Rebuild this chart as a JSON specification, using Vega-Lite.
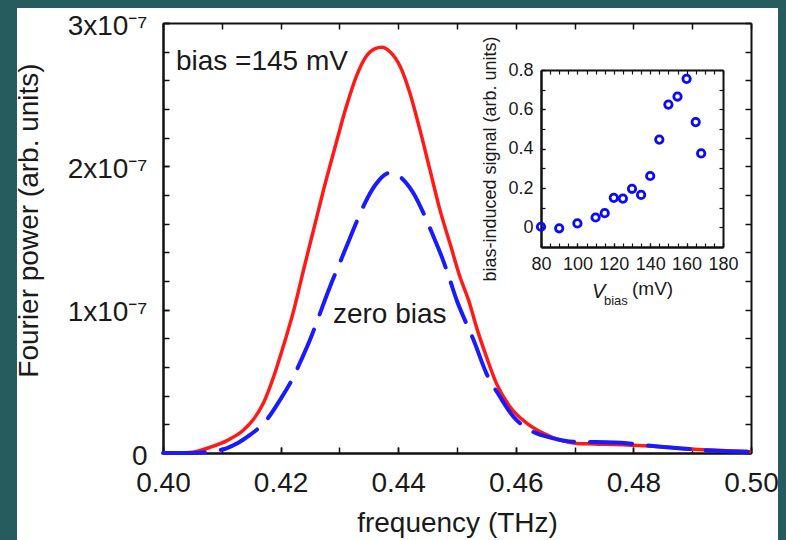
{
  "$schema": "https://vega.github.io/schema/vega-lite/v6.json",
  "width": 761,
  "height": 532,
  "autosize": {"type": "none"},
  "padding": {"left": 17, "top": 8, "right": 8, "bottom": 0},
  "background": "#265c5d",
  "config": {
    "view": {"fill": "white", "stroke": null},
    "font": "Liberation Sans",
    "axis": {"grid": false, "labelFont": "Liberation Sans", "titleFont": "Liberation Sans", "titleFontWeight": "normal", "labelColor": "#1a1a1a", "titleColor": "#1a1a1a", "domainColor": "#111111", "tickColor": "#111111"}
  },
  "datasets": {
    "biased": [
      {"f": 0.400, "p": 0}, {"f": 0.403, "p": 0}, {"f": 0.405, "p": 0.005e-7}, {"f": 0.408, "p": 0.04e-7},
      {"f": 0.4108, "p": 0.085e-7}, {"f": 0.4137, "p": 0.16e-7}, {"f": 0.4154, "p": 0.235e-7}, {"f": 0.4171, "p": 0.35e-7},
      {"f": 0.4188, "p": 0.53e-7}, {"f": 0.4205, "p": 0.75e-7}, {"f": 0.4222, "p": 0.99e-7}, {"f": 0.4239, "p": 1.277e-7},
      {"f": 0.4256, "p": 1.556e-7}, {"f": 0.4273, "p": 1.835e-7}, {"f": 0.4293, "p": 2.14e-7}, {"f": 0.4312, "p": 2.42e-7},
      {"f": 0.4329, "p": 2.63e-7}, {"f": 0.4346, "p": 2.77e-7}, {"f": 0.4360, "p": 2.82e-7}, {"f": 0.4372, "p": 2.83e-7},
      {"f": 0.4386, "p": 2.80e-7}, {"f": 0.4403, "p": 2.70e-7}, {"f": 0.4420, "p": 2.51e-7}, {"f": 0.4437, "p": 2.254e-7},
      {"f": 0.4454, "p": 1.975e-7}, {"f": 0.4471, "p": 1.696e-7}, {"f": 0.4488, "p": 1.463e-7}, {"f": 0.4505, "p": 1.23e-7},
      {"f": 0.4521, "p": 1.05e-7}, {"f": 0.4533, "p": 0.88e-7}, {"f": 0.4550, "p": 0.672e-7}, {"f": 0.4567, "p": 0.486e-7},
      {"f": 0.4590, "p": 0.323e-7}, {"f": 0.4619, "p": 0.207e-7}, {"f": 0.4647, "p": 0.137e-7}, {"f": 0.4675, "p": 0.09e-7},
      {"f": 0.4704, "p": 0.067e-7}, {"f": 0.4732, "p": 0.063e-7}, {"f": 0.4789, "p": 0.056e-7}, {"f": 0.4845, "p": 0.044e-7},
      {"f": 0.4902, "p": 0.026e-7}, {"f": 0.4959, "p": 0.016e-7}, {"f": 0.5000, "p": 0.009e-7}
    ],
    "zero": [
      {"f": 0.400, "p": 0}, {"f": 0.405, "p": 0}, {"f": 0.408, "p": 0.009e-7}, {"f": 0.4108, "p": 0.033e-7},
      {"f": 0.4148, "p": 0.126e-7}, {"f": 0.4176, "p": 0.23e-7}, {"f": 0.4199, "p": 0.37e-7}, {"f": 0.4222, "p": 0.532e-7},
      {"f": 0.4233, "p": 0.63e-7}, {"f": 0.4250, "p": 0.79e-7}, {"f": 0.4264, "p": 0.94e-7}, {"f": 0.4272, "p": 1.03e-7},
      {"f": 0.4284, "p": 1.16e-7}, {"f": 0.4301, "p": 1.33e-7}, {"f": 0.4312, "p": 1.44e-7}, {"f": 0.4329, "p": 1.61e-7},
      {"f": 0.4343, "p": 1.74e-7}, {"f": 0.4361, "p": 1.87e-7}, {"f": 0.4386, "p": 1.955e-7}, {"f": 0.4403, "p": 1.928e-7},
      {"f": 0.4414, "p": 1.882e-7}, {"f": 0.4426, "p": 1.812e-7}, {"f": 0.4443, "p": 1.673e-7}, {"f": 0.4460, "p": 1.51e-7},
      {"f": 0.4474, "p": 1.37e-7}, {"f": 0.4488, "p": 1.207e-7}, {"f": 0.4500, "p": 1.06e-7}, {"f": 0.4511, "p": 0.95e-7},
      {"f": 0.4528, "p": 0.79e-7}, {"f": 0.4550, "p": 0.556e-7}, {"f": 0.4573, "p": 0.393e-7}, {"f": 0.4596, "p": 0.253e-7},
      {"f": 0.4624, "p": 0.16e-7}, {"f": 0.4664, "p": 0.102e-7}, {"f": 0.4698, "p": 0.079e-7}, {"f": 0.4732, "p": 0.077e-7},
      {"f": 0.4789, "p": 0.068e-7}, {"f": 0.4834, "p": 0.049e-7}, {"f": 0.4900, "p": 0.026e-7}, {"f": 0.4950, "p": 0.014e-7},
      {"f": 0.5000, "p": 0.008e-7}
    ],
    "inset": [
      {"v": 80, "s": 0.003}, {"v": 90, "s": -0.005}, {"v": 100, "s": 0.02}, {"v": 110, "s": 0.05},
      {"v": 115, "s": 0.072}, {"v": 120, "s": 0.15}, {"v": 125, "s": 0.146}, {"v": 130, "s": 0.196},
      {"v": 135, "s": 0.165}, {"v": 140, "s": 0.261}, {"v": 145, "s": 0.446}, {"v": 150, "s": 0.624},
      {"v": 155, "s": 0.665}, {"v": 160, "s": 0.755}, {"v": 165, "s": 0.535}, {"v": 168, "s": 0.376}
    ]
  },
  "layer": [
    {
      "layer": [
        {
          "data": {"name": "biased"},
          "mark": {"type": "line", "color": "#ff1a1a", "strokeWidth": 3.5, "interpolate": "monotone"},
          "encoding": {
            "x": {"field": "f", "type": "quantitative",
              "scale": {"domain": [0.40, 0.50], "range": [146, 734], "nice": false, "zero": false},
              "axis": {"orient": "bottom", "offset": -87, "values": [0.40, 0.42, 0.44, 0.46, 0.48, 0.50],
                "format": ".2f", "tickSize": -6, "tickWidth": 1.5, "domainWidth": 2, "labelFontSize": 28, "labelPadding": 22,
                "labelFlush": false, "labelOverlap": false, "title": "frequency (THz)", "titleFontSize": 28, "titlePadding": 12}},
            "y": {"field": "p", "type": "quantitative",
              "scale": {"domain": [0, 3e-7], "range": [445, 15], "nice": false, "zero": false},
              "axis": {"orient": "left", "offset": -146, "values": [0, 1e-7, 2e-7, 3e-7],
                "labelExpr": "round(datum.value*1e7) == 0 ? '0' : format(round(datum.value*1e7), 'd') + 'x10⁻⁷'",
                "tickSize": -6, "tickWidth": 1.5, "domainWidth": 2, "labelFontSize": 28, "labelPadding": 22, "labelOffset": 3,
                "labelOverlap": false, "title": "Fourier power (arb. units)", "titleFontSize": 28, "titlePadding": 24, "titleY": 212}}
          }
        },
        {
          "data": {"values": [{}]},
          "mark": {"type": "text", "text": "bias =145 mV", "align": "left", "baseline": "alphabetic", "fontSize": 28, "color": "#1a1a1a"},
          "encoding": {"x": {"datum": 0.4022}, "y": {"datum": 2.673e-7}}
        },
        {
          "data": {"values": [{}]},
          "mark": {"type": "text", "text": "zero bias", "align": "left", "baseline": "alphabetic", "fontSize": 28, "color": "#1a1a1a"},
          "encoding": {"x": {"datum": 0.4289}, "y": {"datum": 0.907e-7}}
        }
      ]
    },
    {
      "data": {"name": "zero"},
      "mark": {"type": "line", "color": "#1a1aff", "strokeWidth": 4, "strokeDash": [42, 16], "strokeCap": "round", "interpolate": "monotone"},
      "encoding": {
        "x": {"field": "f", "type": "quantitative",
          "scale": {"domain": [0.40, 0.50], "range": [146, 734], "nice": false, "zero": false},
          "axis": {"orient": "top", "offset": -15, "values": [0.40, 0.41, 0.42, 0.43, 0.44, 0.45, 0.46, 0.47, 0.48, 0.49, 0.50],
            "labels": false, "tickSize": -6, "tickWidth": 1.5, "domainWidth": 2, "title": null}},
        "y": {"field": "p", "type": "quantitative",
          "scale": {"domain": [0, 3e-7], "range": [445, 15], "nice": false, "zero": false},
          "axis": {"orient": "right", "offset": -27,
            "values": [0, 2e-8, 4e-8, 6e-8, 8e-8, 1e-7, 1.2e-7, 1.4e-7, 1.6e-7, 1.8e-7, 2e-7, 2.2e-7, 2.4e-7, 2.6e-7, 2.8e-7, 3e-7],
            "labels": false, "tickSize": -6, "tickWidth": 1.5, "domainWidth": 2, "title": null}}
      }
    },
    {
      "data": {"name": "biased"},
      "mark": {"type": "point", "opacity": 0},
      "encoding": {
        "x": {"field": "f", "type": "quantitative",
          "scale": {"domain": [0.40, 0.50], "range": [146, 734], "nice": false, "zero": false},
          "axis": {"orient": "bottom", "offset": -87, "values": [0.40, 0.41, 0.42, 0.43, 0.44, 0.45, 0.46, 0.47, 0.48, 0.49, 0.50],
            "labels": false, "tickSize": -6, "tickWidth": 1.5, "domainWidth": 2, "title": null}},
        "y": {"field": "p", "type": "quantitative",
          "scale": {"domain": [0, 3e-7], "range": [445, 15], "nice": false, "zero": false},
          "axis": {"orient": "left", "offset": -146,
            "values": [0, 2e-8, 4e-8, 6e-8, 8e-8, 1e-7, 1.2e-7, 1.4e-7, 1.6e-7, 1.8e-7, 2e-7, 2.2e-7, 2.4e-7, 2.6e-7, 2.8e-7, 3e-7],
            "labels": false, "tickSize": -6, "tickWidth": 1.5, "domainWidth": 2, "title": null}}
      }
    },
    {
      "layer": [
        {
          "data": {"name": "inset"},
          "mark": {"type": "point", "shape": "circle", "filled": false, "opacity": 1, "size": 55, "strokeWidth": 2.8, "color": "#0a0aff"},
          "encoding": {
            "x": {"field": "v", "type": "quantitative",
              "scale": {"domain": [80, 180], "range": [524, 706], "nice": false, "zero": false},
              "axis": {"orient": "bottom", "offset": -293, "values": [80, 100, 120, 140, 160, 180], "format": "d",
                "tickSize": -4, "tickWidth": 1.2, "domainWidth": 2, "labelFontSize": 18, "labelPadding": 12,
                "labelFlush": false, "labelOverlap": false, "title": null}},
            "y": {"field": "s", "type": "quantitative",
              "scale": {"domain": [-0.1, 0.8], "range": [239, 62], "nice": false, "zero": false},
              "axis": {"orient": "left", "offset": -524, "values": [0, 0.2, 0.4, 0.6, 0.8],
                "labelExpr": "datum.value == 0 ? '0' : format(datum.value, '.1f')",
                "tickSize": -4, "tickWidth": 1.2, "domainWidth": 2, "labelFontSize": 18, "labelPadding": 12,
                "labelOverlap": false, "title": "bias-induced signal (arb. units)", "titleFontSize": 18, "titlePadding": 8}}
          }
        },
        {
          "data": {"values": [{}]},
          "mark": {"type": "text", "text": "V", "align": "left", "baseline": "alphabetic", "fontSize": 20, "fontStyle": "italic", "color": "#1a1a1a"},
          "encoding": {"x": {"datum": 108.0}, "y": {"datum": -0.359}}
        },
        {
          "data": {"values": [{}]},
          "mark": {"type": "text", "text": "bias", "align": "left", "baseline": "alphabetic", "fontSize": 13, "color": "#1a1a1a"},
          "encoding": {"x": {"datum": 114.6}, "y": {"datum": -0.395}}
        },
        {
          "data": {"values": [{}]},
          "mark": {"type": "text", "text": "(mV)", "align": "left", "baseline": "alphabetic", "fontSize": 19, "color": "#1a1a1a"},
          "encoding": {"x": {"datum": 130}, "y": {"datum": -0.345}}
        }
      ]
    },
    {
      "data": {"name": "inset"},
      "mark": {"type": "point", "opacity": 0},
      "encoding": {
        "x": {"field": "v", "type": "quantitative",
          "scale": {"domain": [80, 180], "range": [524, 706], "nice": false, "zero": false},
          "axis": {"orient": "top", "offset": -62, "values": [80, 85, 90, 95, 100, 105, 110, 115, 120, 125, 130, 135, 140, 145, 150, 155, 160, 165, 170, 175, 180],
            "labels": false, "tickSize": -4, "tickWidth": 1.2, "domainWidth": 2, "title": null}},
        "y": {"field": "s", "type": "quantitative",
          "scale": {"domain": [-0.1, 0.8], "range": [239, 62], "nice": false, "zero": false},
          "axis": {"orient": "right", "offset": -55, "values": [0, 0.1, 0.2, 0.3, 0.4, 0.5, 0.6, 0.7, 0.8],
            "labels": false, "tickSize": -4, "tickWidth": 1.2, "domainWidth": 2, "title": null}}
      }
    },
    {
      "data": {"name": "inset"},
      "mark": {"type": "point", "opacity": 0},
      "encoding": {
        "x": {"field": "v", "type": "quantitative",
          "scale": {"domain": [80, 180], "range": [524, 706], "nice": false, "zero": false},
          "axis": {"orient": "bottom", "offset": -293, "values": [80, 85, 90, 95, 100, 105, 110, 115, 120, 125, 130, 135, 140, 145, 150, 155, 160, 165, 170, 175, 180],
            "labels": false, "tickSize": -4, "tickWidth": 1.2, "domainWidth": 2, "title": null}},
        "y": {"field": "s", "type": "quantitative",
          "scale": {"domain": [-0.1, 0.8], "range": [239, 62], "nice": false, "zero": false},
          "axis": {"orient": "left", "offset": -524, "values": [0, 0.1, 0.2, 0.3, 0.4, 0.5, 0.6, 0.7, 0.8],
            "labels": false, "tickSize": -4, "tickWidth": 1.2, "domainWidth": 2, "title": null}}
      }
    }
  ],
  "resolve": {"scale": {"x": "independent", "y": "independent"}, "axis": {"x": "independent", "y": "independent"}}
}
